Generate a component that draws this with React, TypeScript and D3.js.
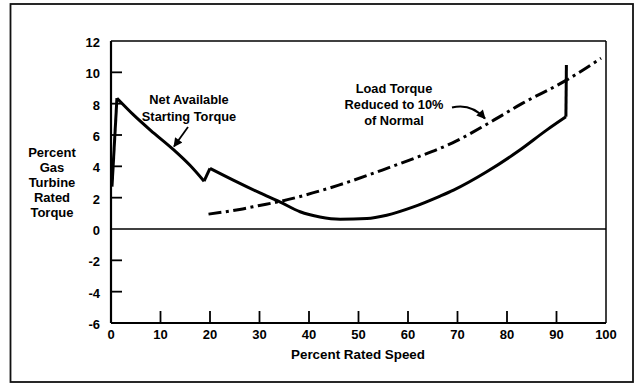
import React from "react";
import * as d3 from "d3";

// Percent rated speed vs. percent gas turbine rated torque
const netTorque: [number, number][] = [
  [0.2, 2.7], [1.2, 8.35], [4.5, 7.3], [8, 6.3], [12.5, 5.1], [16, 4.05],
  [18.8, 3.05], [20, 3.87], [24.7, 3.12], [30.1, 2.3], [34.1, 1.73],
  [38.2, 1.1], [42.2, 0.77], [46.3, 0.63], [51.7, 0.67], [55.7, 0.88],
  [61.1, 1.41], [66.5, 2.1], [69.2, 2.48], [75.9, 3.65], [82.6, 5.04],
  [88, 6.31], [91.9, 7.16], [92, 10.47],
];
// indices where the net torque curve has a sharp corner
const netCorners = [0, 1, 6, 7, 22, 23];

const loadTorque: [number, number][] = [
  [19.7, 0.95], [26, 1.25], [30, 1.5], [34, 1.75], [46, 2.8], [56, 3.9],
  [62, 4.6], [69, 5.5], [76, 6.7], [83, 8.0], [92, 9.5], [99, 10.9],
];

const xTicks = [0, 10, 20, 30, 40, 50, 60, 70, 80, 90, 100];
const yTicks = [-6, -4, -2, 0, 2, 4, 6, 8, 10, 12];
const yTitle = ["Percent", "Gas", "Turbine", "Rated", "Torque"];
const xTitle = "Percent Rated Speed";
const netLabel = ["Net Available", "Starting Torque"];
const loadLabel = ["Load Torque", "Reduced to 10%", "of Normal"];

const W = 636;
const H = 386;
const left = 111, right = 606, top = 41, bottom = 323;
const font = "'Liberation Sans', Arial, Helvetica, sans-serif";

export default function App() {
  const x = d3.scaleLinear().domain([0, 100]).range([left, right]);
  const y = d3.scaleLinear().domain([-6, 12]).range([bottom, top]);

  const smooth = d3
    .line<[number, number]>()
    .x((d) => x(d[0]))
    .y((d) => y(d[1]))
    .curve(d3.curveMonotoneX);

  // net torque drawn piecewise between corners so the corners stay sharp
  const netPaths: string[] = [];
  for (let i = 0; i < netCorners.length - 1; i++) {
    const seg = netTorque.slice(netCorners[i], netCorners[i + 1] + 1);
    netPaths.push(smooth(seg) || "");
  }
  const loadPath = smooth(loadTorque) || "";

  return (
    <svg
      width={W}
      height={H}
      style={{ position: "absolute", left: 0, top: 0, background: "#fff" }}
      fontFamily={font}
      fontWeight="bold"
    >
      <defs>
        <marker
          id="head"
          viewBox="0 0 10 10"
          refX="9"
          refY="5"
          markerWidth="10"
          markerHeight="9"
          markerUnits="userSpaceOnUse"
          orient="auto"
        >
          <path d="M0,0 L10,5 L0,10 z" fill="#000" />
        </marker>
      </defs>

      {/* outer frame */}
      <rect x={10.5} y={4} width={622.5} height={378} fill="none" stroke="#111" strokeWidth={1.8} />

      {/* plot box */}
      <line x1={left} x2={right} y1={top} y2={top} stroke="#000" strokeWidth={1.5} />
      <line x1={right} x2={right} y1={top} y2={bottom} stroke="#000" strokeWidth={1.5} />
      <line x1={left} x2={right} y1={bottom} y2={bottom} stroke="#000" strokeWidth={2} />
      <line x1={left} x2={left} y1={top} y2={bottom} stroke="#000" strokeWidth={2.2} />
      <line x1={left} x2={right} y1={y(0)} y2={y(0)} stroke="#000" strokeWidth={1.5} />

      {/* y ticks */}
      {yTicks.map((t) => (
        <g key={"y" + t}>
          {t > -6 && t < 12 && t !== 0 && (
            <line x1={left} x2={left + 11} y1={y(t)} y2={y(t)} stroke="#000" strokeWidth={1.8} />
          )}
          <text x={100} y={y(t) + 1.5} dy="0.35em" textAnchor="end" fontSize={13}>
            {t}
          </text>
        </g>
      ))}

      {/* x ticks */}
      {xTicks.map((t) => (
        <g key={"x" + t}>
          {t > 0 && t < 100 && (
            <line x1={x(t)} x2={x(t)} y1={bottom} y2={bottom - 12} stroke="#000" strokeWidth={1.8} />
          )}
          <text x={x(t)} y={334} dy="0.35em" textAnchor="middle" fontSize={13}>
            {t}
          </text>
        </g>
      ))}

      {/* axis titles */}
      <text x={358} y={354} dy="0.35em" textAnchor="middle" fontSize={13.4}>
        {xTitle}
      </text>
      {yTitle.map((s, i) => (
        <text key={s} x={52} y={152 + i * 15.2} dy="0.35em" textAnchor="middle" fontSize={13}>
          {s}
        </text>
      ))}

      {/* curves */}
      {netPaths.map((d, i) => (
        <path key={i} d={d} fill="none" stroke="#000" strokeWidth={3} strokeLinejoin="round" />
      ))}
      <path
        d={loadPath}
        fill="none"
        stroke="#000"
        strokeWidth={3}
        strokeDasharray="13 4.5 3 4.5"
      />

      {/* annotations */}
      {netLabel.map((s, i) => (
        <text key={s} x={189} y={100 + i * 16.5} dy="0.35em" textAnchor="middle" fontSize={12.8}>
          {s}
        </text>
      ))}
      <line x1={188} y1={127} x2={174} y2={146.5} stroke="#000" strokeWidth={1.8} markerEnd="url(#head)" />

      {loadLabel.map((s, i) => (
        <text key={s} x={394} y={89 + i * 16} dy="0.35em" textAnchor="middle" fontSize={12.8}>
          {s}
        </text>
      ))}
      <path
        d="M452,107.5 Q471,103 485,118.5"
        fill="none"
        stroke="#000"
        strokeWidth={2.2}
        markerEnd="url(#head)"
      />
    </svg>
  );
}
